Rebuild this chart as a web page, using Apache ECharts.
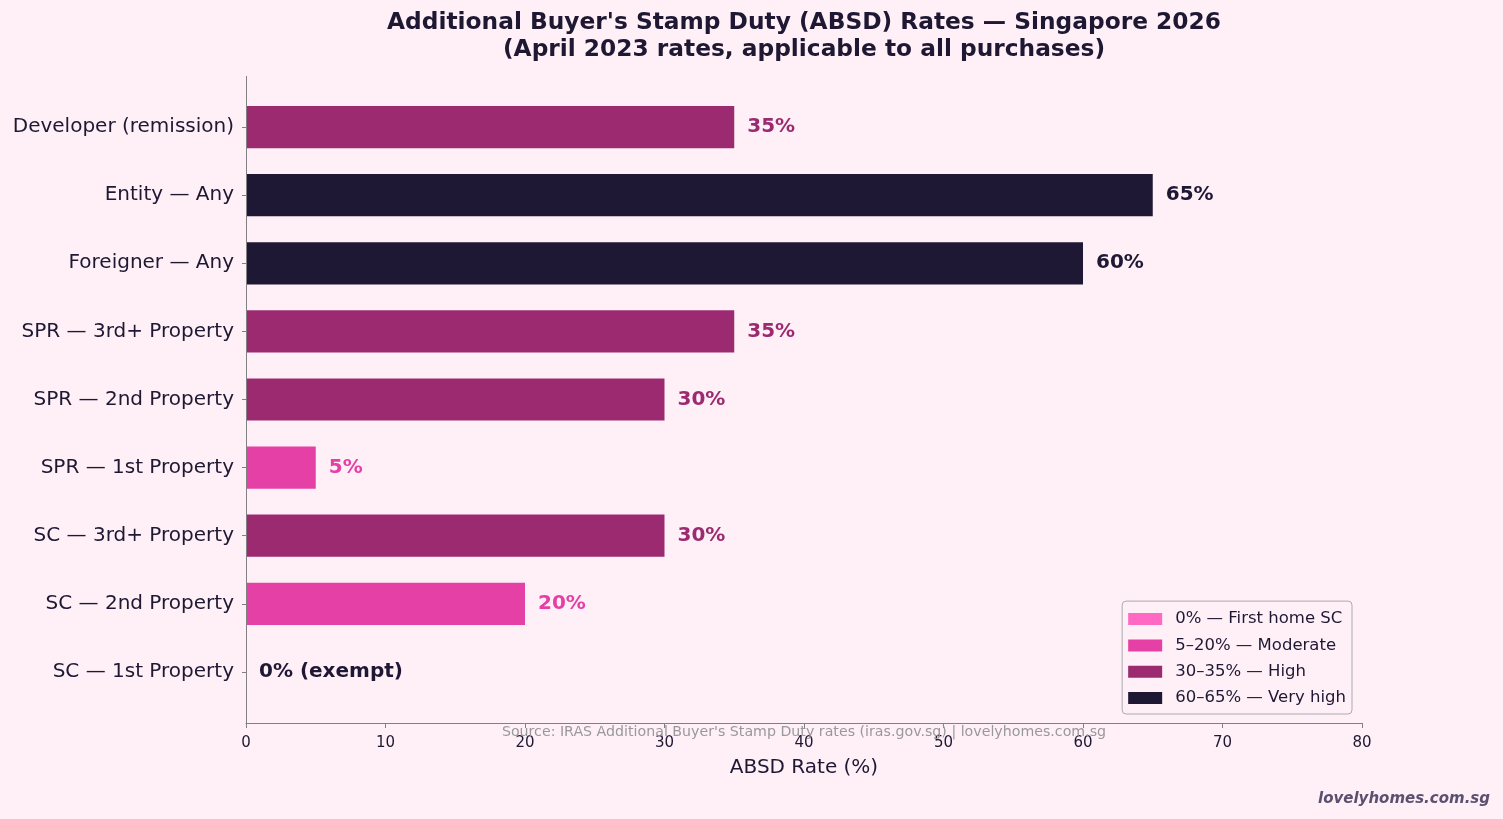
<!DOCTYPE html>
<html>
<head>
<meta charset="utf-8">
<script src="https://cdn.jsdelivr.net/npm/echarts@6/dist/echarts.min.js"></script>
<style>
  html, body { margin: 0; padding: 0; background: #fff0f8; }
  #main { width: 1503px; height: 819px; }
</style>
</head>
<body>
<div id="main"></div>
<script>
// bottom to top, as drawn
var categories = ['SC — 1st Property', 'SC — 2nd Property', 'SC — 3rd+ Property',
  'SPR — 1st Property', 'SPR — 2nd Property', 'SPR — 3rd+ Property',
  'Foreigner — Any', 'Entity — Any', 'Developer (remission)'];
var rates = [0, 20, 30, 5, 30, 35, 60, 65, 35];
var tierOf = [0, 1, 2, 1, 2, 2, 3, 3, 2];
var tierNames = ['0% — First home SC', '5–20% — Moderate', '30–35% — High', '60–65% — Very high'];
var tierColors = ['#ff69c4', '#e540a6', '#9b2a70', '#1e1835'];
var labelColors = ['#1e1835', '#e540a6', '#9b2a70', '#1e1835'];
var xTicks = [0, 10, 20, 30, 40, 50, 60, 70, 80];

var font = 'DejaVu Sans';
var ink = '#1e1833';

var myChart = echarts.init(document.getElementById('main'));

var series = tierNames.map(function (name, t) {
  return {
    name: name,
    type: 'bar',
    stack: 'rate',
    barWidth: '62%',
    itemStyle: { color: tierColors[t] },
    label: {
      show: true,
      position: 'right',
      distance: 13,
      fontFamily: font,
      fontSize: 20,
      fontWeight: 'bold',
      color: labelColors[t],
      padding: [2, 0, 0, 0],
      formatter: function (p) {
        return p.value === 0 ? '0% (exempt)' : p.value + '%';
      }
    },
    data: rates.map(function (v, i) { return tierOf[i] === t ? v : '-'; })
  };
});

option = {
  backgroundColor: '#fff0f8',
  animation: false,
  textStyle: { fontFamily: font },
  legend: {
    data: tierNames,
    orient: 'vertical',
    right: 151,
    bottom: 105,
    itemWidth: 34,
    itemHeight: 12,
    itemGap: 6.3,
    icon: 'rect',
    padding: [8, 6, 6, 6],
    backgroundColor: '#fff0f8',
    borderColor: '#aaaaaa',
    borderWidth: 1,
    borderRadius: 4,
    textStyle: { fontFamily: font, fontSize: 16.5, color: ink, padding: [0, 0, 0, 8], lineHeight: 20 }
  },
  grid: {
    left: 246,
    right: 141,
    top: 93,
    bottom: 113
  },
  xAxis: {
    type: 'value',
    min: 0,
    max: 80,
    interval: 10,
    offset: 17,
    name: 'ABSD Rate (%)',
    nameLocation: 'middle',
    nameGap: 35,
    nameTextStyle: { fontFamily: font, fontSize: 20, color: ink },
    axisLine: { show: true, lineStyle: { color: '#808080', width: 1 } },
    axisTick: { show: true, length: 5, lineStyle: { color: '#808080' } },
    axisLabel: {
      margin: 13,
      fontFamily: font,
      fontSize: 15,
      color: ink,
      formatter: function (v) { return xTicks.indexOf(v) >= 0 ? String(v) : ''; }
    },
    splitLine: { show: false }
  },
  yAxis: {
    type: 'category',
    data: categories,
    axisLine: { show: false },
    axisTick: { show: true, alignWithLabel: true, length: 4, lineStyle: { color: '#808080' } },
    axisLabel: { margin: 12, fontFamily: font, fontSize: 20, color: ink, padding: [8, 0, 0, 0] }
  },
  graphic: [
    {
      type: 'line',
      shape: { x1: 246.5, y1: 76, x2: 246.5, y2: 723 },
      style: { stroke: '#808080', lineWidth: 1 },
      z: 10
    },
    {
      type: 'text',
      x: 804, y: 23,
      style: {
        text: "Additional Buyer's Stamp Duty (ABSD) Rates — Singapore 2026",
        font: 'bold 23.3px "DejaVu Sans"', fill: ink,
        textAlign: 'center', textVerticalAlign: 'middle'
      }
    },
    {
      type: 'text',
      x: 804, y: 50,
      style: {
        text: '(April 2023 rates, applicable to all purchases)',
        font: 'bold 23.3px "DejaVu Sans"', fill: ink,
        textAlign: 'center', textVerticalAlign: 'middle'
      }
    },
    {
      type: 'text',
      x: 804, y: 732,
      style: {
        text: "Source: IRAS Additional Buyer's Stamp Duty rates (iras.gov.sg) | lovelyhomes.com.sg",
        font: '14.2px "DejaVu Sans"', fill: '#999999',
        textAlign: 'center', textVerticalAlign: 'middle'
      },
      z: 20
    },
    {
      type: 'text',
      x: 1490, y: 799,
      style: {
        text: 'lovelyhomes.com.sg',
        font: 'italic bold 15px "DejaVu Sans"', fill: '#5c5070',
        textAlign: 'right', textVerticalAlign: 'middle'
      }
    }
  ],
  series: series
};
myChart.setOption(option);
</script>
</body>
</html>
